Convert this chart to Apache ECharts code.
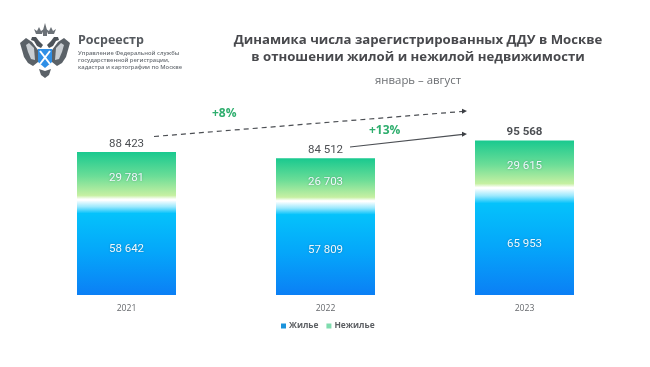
<!DOCTYPE html>
<html lang="ru">
<head>
    <meta charset="UTF-8">
    <title>ДДУ Москва</title>
    <script src="https://cdn.jsdelivr.net/npm/echarts@6/dist/echarts.min.js"></script>
    <style type="text/css">
        html,body{margin:0;padding:0;background:#fff;}
    </style>
</head>
<body>
<div id="main" style="width:650px;height:367px;"></div>
<script type="text/javascript">
    var years = ['2021', '2022', '2023'];
    var housing = [58642, 57809, 65953];
    var nonHousing = [29781, 26703, 29615];
    var totals = [88423, 84512, 95568];

    var myChart = echarts.init(document.getElementById('main'));

    function fmt(v) {
        return String(v).replace(/\B(?=(\d{3})+$)/g, ' ');
    }
    function grad(stops) {
        return new echarts.graphic.LinearGradient(0, 0, 0, 1, stops.map(function (s) {
            return {offset: s[0], color: s[1]};
        }));
    }
    // mirrored part of the emblem, around x = 45
    function mirror(pts) {
        return pts.map(function (p) { return [90 - p[0], p[1]]; });
    }
    function poly(pts, color) {
        return {type: 'polygon', shape: {points: pts}, style: {fill: color}};
    }

    var wing = [[38,50],[32,42],[26,38],[20,43],[22,50],[24,57],[28,63],[33,66],[38,62]];
    var wingLight = [[34,48],[29,43],[26,45],[28,52],[31,59],[35,60]];
    var head = [[41,48],[37,46],[34,41],[31,40],[32,37],[36,37],[39,41],[43,45]];
    var tail = [[39,69],[45,71],[51,69],[49,75],[45,78],[41,75]];
    var crown = [[36,34],[34,29],[37,31],[39,27],[41,31],[44,29],[42,34]];
    var logoParts = [
        poly(wing, '#5b6268'), poly(mirror(wing), '#5b6268'),
        poly(wingLight, '#c9ced2'), poly(mirror(wingLight), '#c9ced2'),
        poly(head, '#4d5359'), poly(mirror(head), '#4d5359'),
        poly(tail, '#5b6268'),
        poly(crown, '#6b7177'), poly(mirror(crown), '#6b7177'),
        poly([[43,30],[45,23],[47,30],[47,36],[43,36]], '#6b7177'),
        {type: 'polygon', shape: {points: [[38,49],[52,49],[52,62],[45,68],[38,62]]}, style: {fill: '#2f8fe6'}},
        {type: 'line', shape: {x1: 40, y1: 51, x2: 50, y2: 64}, style: {stroke: '#fff', lineWidth: 2}},
        {type: 'line', shape: {x1: 50, y1: 51, x2: 40, y2: 64}, style: {stroke: '#fff', lineWidth: 2}}
    ];

    function smallText(str, y) {
        return {type: 'text', left: 78, top: y, style: {text: str, fill: '#6b7076', font: '600 5.8px "Open Sans"'}};
    }
    function arrow(x1, y1, x2, y2, dash) {
        return [
            {type: 'line', shape: {x1: x1, y1: y1, x2: x2 - 4, y2: y2 + 0.4},
                style: {stroke: '#4c4f54', lineWidth: 1.2, lineDash: dash}},
            {type: 'polygon', shape: {points: [[x2, y2], [x2 - 5, y2 - 2.2], [x2 - 5, y2 + 2.8]]}, style: {fill: '#3c3f44'}}
        ];
    }

    var innerLabel = {
        show: true, position: 'inside', offset: [0, 2],
        formatter: function (p) { return fmt(p.value); },
        fontFamily: 'Roboto', fontSize: 11.5, fontWeight: 400, color: '#f0f9ff',
        textShadowColor: 'rgba(0,0,0,.3)', textShadowBlur: 2
    };

    var option = {
        backgroundColor: '#ffffff',
        animation: false,
        textStyle: {fontFamily: 'Roboto'},
        title: [{
            text: 'Динамика числа зарегистрированных ДДУ в Москве\nв отношении жилой и нежилой недвижимости',
            left: 413, top: 27, textAlign: 'center',
            textStyle: {fontFamily: 'Open Sans', fontSize: 13.2, fontWeight: 700, color: '#48494d', lineHeight: 17, align: 'center'}
        }, {
            text: 'январь – август',
            left: 413, top: 70, textAlign: 'center',
            textStyle: {fontFamily: 'Open Sans', fontSize: 11.4, fontWeight: 400, color: '#6c6f73'}
        }],
        legend: {
            data: [
                {name: 'Жилье', itemStyle: {color: '#1b93dc'}},
                {name: 'Нежилье', itemStyle: {color: '#7fdcae'}}
            ],
            left: 276, top: 317, itemWidth: 5, itemHeight: 5, itemGap: 8,
            icon: 'rect', selectedMode: false,
            textStyle: {fontFamily: 'Open Sans', fontSize: 8.4, fontWeight: 700, color: '#5c5f63', padding: [0, 0, 0, -2]}
        },
        grid: {left: 27, right: 26, top: 101, bottom: 72},
        xAxis: {
            type: 'category', data: years,
            axisLine: {show: false}, axisTick: {show: false},
            axisLabel: {fontFamily: 'Open Sans', fontSize: 8.6, color: '#66696d', margin: 9}
        },
        yAxis: {type: 'value', min: 0, max: 120000, show: false},
        series: [{
            name: 'Жилье', type: 'bar', stack: 'a', data: housing, barWidth: 99,
            itemStyle: {color: grad([[0, '#ffffff'], [0.07, '#9ae8fd'], [0.14, '#05c2fb'], [0.55, '#05a6fa'], [1, '#0b7ff5']])},
            label: innerLabel
        }, {
            name: 'Нежилье', type: 'bar', stack: 'a', data: nonHousing,
            itemStyle: {color: grad([[0, '#19c98f'], [0.5, '#6bdd97'], [0.9, '#c6f0a2'], [0.98, '#ffffff'], [1, '#ffffff']])},
            label: innerLabel
        }, {
            name: 'Всего', type: 'line', symbolSize: 0,
            data: totals.map(function (v, i) {
                return {value: v, label: {fontWeight: i === 2 ? 700 : 400}};
            }),
            lineStyle: {opacity: 0}, itemStyle: {opacity: 0},
            label: {show: true, position: 'top', distance: 2, opacity: 1, formatter: function (p) { return fmt(p.value); },
                fontFamily: 'Roboto', fontSize: 11.5, color: '#4c4f53'}
        }],
        graphic: logoParts.concat(
            [
                {type: 'text', left: 78, top: 34, style: {text: 'Росреестр', fill: '#55595e', font: '700 12.5px "Open Sans"'}},
                smallText('Управление Федеральной службы', 50),
                smallText('государственной регистрации,', 57),
                smallText('кадастра и картографии по Москве', 64),
                {type: 'text', left: 212, top: 108, style: {text: '+8%', fill: '#2fae6e', font: '700 12px "Open Sans"'}},
                {type: 'text', left: 369, top: 125, style: {text: '+13%', fill: '#2fae6e', font: '700 12px "Open Sans"'}}
            ],
            arrow(154, 136.5, 467, 111, [5, 4]),
            arrow(350, 147, 467, 134, null)
        )
    };
    myChart.setOption(option);
</script>
</body>
</html>
